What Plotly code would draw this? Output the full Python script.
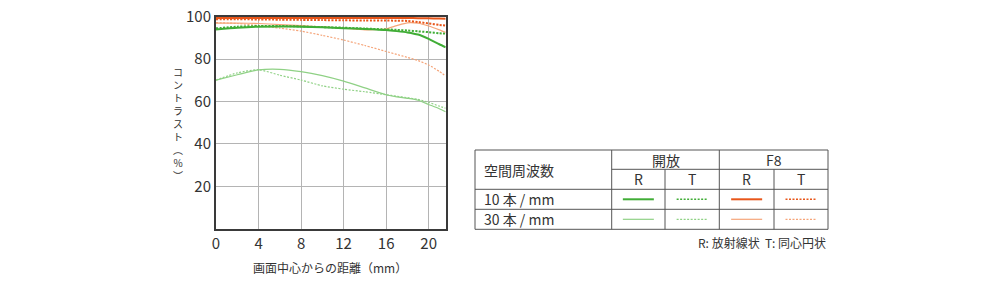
import plotly.graph_objects as go

W, H = 1000, 281
FONT = "Noto Sans CJK JP"
TXT = "#333333"

# ---------------- data ----------------
dist = [0, 2, 4, 6, 8, 10, 12, 14, 16, 17, 18, 19, 20, 21, 21.6]

open_r10 = [94.0, 94.8, 95.3, 95.4, 95.3, 95.0, 94.6, 94.2, 93.7, 93.2, 92.6, 91.6, 89.5, 87.0, 85.6]
open_t10 = [94.5, 95.3, 95.6, 95.6, 95.4, 95.1, 94.8, 94.4, 94.0, 93.8, 93.5, 93.1, 92.7, 92.2, 92.0]
open_r30 = [70.1, 72.6, 74.9, 75.2, 74.1, 72.2, 69.6, 66.4, 63.2, 62.2, 61.5, 60.6, 58.6, 56.6, 55.2]
open_t30 = [70.1, 73.5, 75.0, 72.4, 70.1, 67.4, 65.8, 64.6, 63.2, 62.5, 61.8, 61.0, 59.6, 57.8, 56.8]
f8_r10 = [99.4, 99.4, 99.4, 99.4, 99.4, 99.4, 99.4, 99.4, 99.4, 99.4, 99.4, 99.3, 99.3, 99.1, 99.0]
f8_t10 = [98.8, 98.8, 98.7, 98.6, 98.5, 98.4, 98.3, 98.2, 98.2, 98.1, 98.0, 97.5, 96.8, 96.1, 95.8]
f8_r30 = [97.0, 97.0, 96.8, 96.3, 95.8, 95.2, 94.6, 93.8, 94.3, 95.8, 97.1, 96.9, 95.6, 93.8, 92.6]
f8_t30 = [97.2, 96.8, 95.8, 94.6, 93.2, 91.2, 89.0, 86.4, 83.6, 82.2, 80.8, 79.3, 77.2, 74.2, 72.0]

x_ticks = [0, 4, 8, 12, 16, 20]
y_ticks = [20, 40, 60, 80, 100]

x_title = "画面中心からの距離（mm）"
y_title_chars = ["コ", "ン", "ト", "ラ", "ス", "ト", "︵", "%", "︶"]

table_head = "空間周波数"
aperture_labels = ["開放", "F8"]
dir_labels = ["R", "T", "R", "T"]
freq_labels = ["10 本 / mm", "30 本 / mm"]
footnote = "R: 放射線状  T: 同心円状"

# ---------------- styles ----------------
G_DARK = "#40ad36"
G_LIGHT = "#8fd185"
O_DARK = "#e8561a"
O_LIGHT = "#f5a57a"
DOT = "2px,1.5px"

series = [
    (f8_t30, O_LIGHT, 1.2, DOT),
    (f8_r30, O_LIGHT, 1.2, "solid"),
    (open_t30, G_LIGHT, 1.2, DOT),
    (open_r30, G_LIGHT, 1.2, "solid"),
    (open_t10, G_DARK, 2, DOT),
    (open_r10, G_DARK, 2, "solid"),
    (f8_t10, O_DARK, 2, DOT),
    (f8_r10, O_DARK, 2, "solid"),
]


def px(x):
    return x / W


def py(y):
    return 1 - y / H


fig = go.Figure()
for ys, col, wd, dash in series:
    fig.add_trace(go.Scatter(x=dist, y=ys, mode="lines",
                             line=dict(color=col, width=wd, dash=dash, shape="spline", smoothing=0.6),
                             showlegend=False, hoverinfo="skip"))

# plot area in pixels
L, R_, T, B = 216, 445.7, 16.7, 228.7

fig.update_layout(
    width=W, height=H,
    margin=dict(l=0, r=0, t=0, b=0, autoexpand=False),
    showlegend=False,
    paper_bgcolor="white", plot_bgcolor="white",
    font=dict(family=FONT, color=TXT),
    xaxis=dict(domain=[px(L), px(R_)], range=[0, 21.6], tickvals=x_ticks, automargin=False,
               showgrid=True, gridcolor="#b4b4b4", gridwidth=1,
               showline=True, mirror=True, linecolor="#3a3a3a", linewidth=2,
               ticks="", zeroline=False, tickfont=dict(size=15, color=TXT)),
    yaxis=dict(domain=[py(B), py(T)], range=[0, 100], tickvals=y_ticks, automargin=False,
               showgrid=True, gridcolor="#b4b4b4", gridwidth=1,
               showline=True, mirror=True, linecolor="#3a3a3a", linewidth=2,
               ticks="", zeroline=False, tickfont=dict(size=15, color=TXT)),
)

annotations = []
annotations.append(dict(x=px(330), y=py(267), xref="paper", yref="paper", text=x_title,
                        showarrow=False, font=dict(size=12, color=TXT), xanchor="center", yanchor="middle"))
annotations.append(dict(x=px(178), y=py(123), xref="paper", yref="paper", text="<br>".join(y_title_chars),
                        showarrow=False, font=dict(size=10, color=TXT), xanchor="center", yanchor="middle"))

# ---------------- table ----------------
tx0, tx1 = 475, 828
c1, c2, c3, c4 = 611.7, 665, 719.3, 774
r0, r1, r2, r3, r4 = 150, 169.3, 189.3, 209.3, 229.3
LC = "#555555"
shapes = []


def hline(x0, x1, y, color=LC):
    shapes.append(dict(type="line", xref="paper", yref="paper", x0=px(x0), x1=px(x1), y0=py(y), y1=py(y),
                       line=dict(color=color, width=1)))


def vline(x, y0, y1, color=LC):
    shapes.append(dict(type="line", xref="paper", yref="paper", x0=px(x), x1=px(x), y0=py(y0), y1=py(y1),
                       line=dict(color=color, width=1)))


hline(tx0, tx1, r0)
hline(c1, tx1, r1)
hline(tx0, tx1, r2)
hline(tx0, tx1, r3)
hline(tx0, tx1, r4)
vline(tx0, r0, r4)
vline(tx1, r0, r4)
vline(c1, r0, r4)
vline(c3, r0, r4)
vline(c2, r1, r4)
vline(c4, r1, r4)

annotations.append(dict(x=px(482), y=py((r0 + r2) / 2), xref="paper", yref="paper", text=table_head,
                        showarrow=False, font=dict(size=14, color=TXT), xanchor="left", yanchor="middle"))
for lab, (a, b) in zip(aperture_labels, [(c1, c3), (c3, tx1)]):
    annotations.append(dict(x=px((a + b) / 2), y=py((r0 + r1) / 2), xref="paper", yref="paper", text=lab,
                            showarrow=False, font=dict(size=14, color=TXT), xanchor="center", yanchor="middle"))
cols = [(c1, c2), (c2, c3), (c3, c4), (c4, tx1)]
for lab, (a, b) in zip(dir_labels, cols):
    annotations.append(dict(x=px((a + b) / 2), y=py((r1 + r2) / 2), xref="paper", yref="paper", text=lab,
                            showarrow=False, font=dict(size=14, color=TXT), xanchor="center", yanchor="middle"))
for lab, (a, b) in zip(freq_labels, [(r2, r3), (r3, r4)]):
    annotations.append(dict(x=px(482), y=py((a + b) / 2), xref="paper", yref="paper", text=lab,
                            showarrow=False, font=dict(size=14, color=TXT), xanchor="left", yanchor="middle"))

# legend samples
sample_styles = [
    [(G_DARK, 2, "solid"), (G_DARK, 1.5, DOT), (O_DARK, 2, "solid"), (O_DARK, 1.5, DOT)],
    [(G_LIGHT, 1.2, "solid"), (G_LIGHT, 1.2, DOT), (O_LIGHT, 1.2, "solid"), (O_LIGHT, 1.2, DOT)],
]
for (ra, rb), row in zip([(r2, r3), (r3, r4)], sample_styles):
    ym = (ra + rb) / 2
    for (a, b), (col, wd, dash) in zip(cols, row):
        m = (a + b) / 2
        shapes.append(dict(type="line", xref="paper", yref="paper", x0=px(m - 15.5), x1=px(m + 15.5),
                           y0=py(ym), y1=py(ym), line=dict(color=col, width=wd, dash=dash)))

annotations.append(dict(x=px(828), y=py(242), xref="paper", yref="paper", text=footnote,
                        showarrow=False, font=dict(size=12, color=TXT), xanchor="right", yanchor="middle"))

fig.update_layout(shapes=shapes, annotations=annotations)
fig.write_html("out.html")
